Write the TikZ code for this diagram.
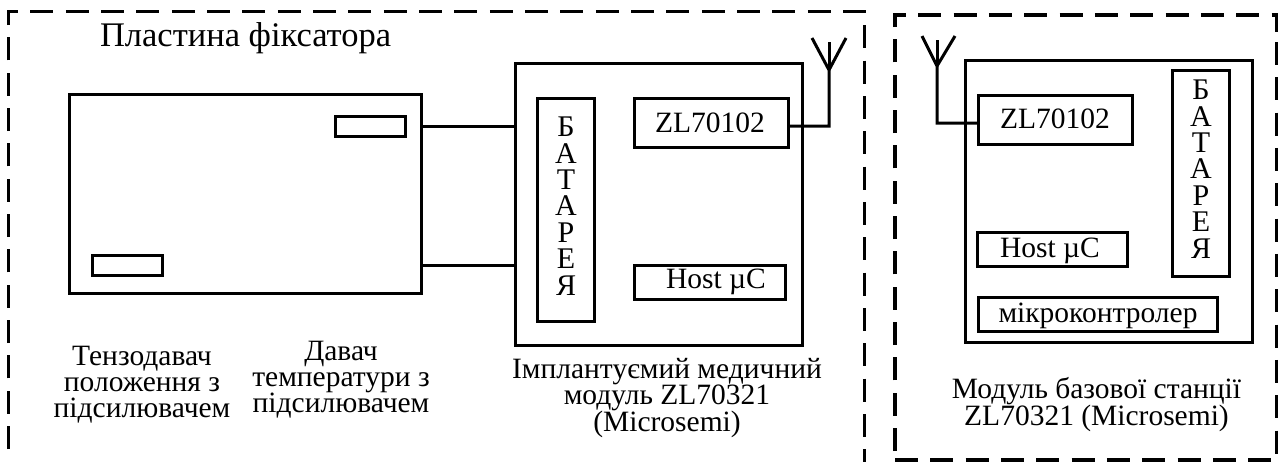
\documentclass[tikz,border=0pt]{standalone}
\usepackage{fontspec}
\setmainfont{Liberation Serif}
\tikzset{
  x=1pt,y=-1pt,
  boxn/.style={draw=black,line width=3pt,line join=miter,inner sep=0pt,outer sep=0pt,rectangle,anchor=north west},
  wire/.style={draw=black,line width=3pt,line join=miter},
  frame/.style={draw=black,line width=3.2pt,line join=miter,dash pattern=on 23pt off 12.33pt},
  lab/.style={inner sep=0pt,outer sep=0pt,align=center,font=\fontsize{29.5}{26}\selectfont},
  one/.style={inner sep=0pt,outer sep=0pt,anchor=base,font=\fontsize{29.5}{26}\selectfont},
  bat/.style={inner sep=0pt,outer sep=0pt,align=center,font=\fontsize{30}{26.4}\selectfont},
}
\newcommand{\bx}[6]{\node[boxn,minimum width=#4-#2,minimum height=#5-#3] (#1) at (#2,#3) {#6};}
\begin{document}
\begin{tikzpicture}
\useasboundingbox (0,0) rectangle (1279,461);
% dashed frames
\coordinate (fa) at (864.5,462);\coordinate (fb) at (864.5,11.5);\coordinate (fc) at (8.7,11.5);\coordinate (fd) at (8.7,449);
\draw[frame] (fd) -- (fc) -- (fb) -- (fa);
\coordinate (ga) at (895,451);\coordinate (gb) at (895,15);\coordinate (gc) at (1276.5,15);\coordinate (gd) at (1276.5,32);
\draw[frame] (ga) -- (gb) -- (gc) -- (gd);
\coordinate (ge) at (1276.5,42);\coordinate (gf) at (1276.5,455);
\draw[frame] (ge) -- (gf);
\coordinate (gg) at (895,460);\coordinate (gh) at (1271,460);
\draw[frame] (gg) -- (gh);
% left
\bx{plate}{69}{94}{421}{293}{}
\bx{st}{335}{116}{405}{136}{}
\bx{sb}{92}{255}{162}{275}{}
\bx{mod}{515}{63}{802}{345}{}
\bx{batl}{537}{98}{594}{321}{}
\bx{zl}{634}{98}{788}{147}{}
\bx{hl}{634}{265}{785}{299}{}
\node[one] at (710,132) (zltext) {ZL70102};
\node[one] at (716,288) (hltext) {Host µC};
\node[bat] at (566,206) (batltext) {Б\\А\\Т\\А\\Р\\Е\\Я};
\node[one,anchor=base west,font=\fontsize{34.5}{36}\selectfont] at (100,46) (title) {Пластина фіксатора};
\node[lab] at (142,384.5) (t1) {Тензодавач\\положення з\\підсилювачем};
\node[lab] at (341,379.5) (t2) {Давач\\температури з\\підсилювачем};
\node[lab] at (667,398) (t3) {Імплантуємий медичний\\модуль ZL70321\\(Microsemi)};
\coordinate (pt) at (421,126);\coordinate (mt) at (515,126);
\coordinate (pb) at (421,265);\coordinate (mb) at (515,265);
\draw[wire] (pt) -- (mt);
\draw[wire] (pb) -- (mb);
\coordinate (al) at (829,126);\coordinate (ab) at (829,70);
\coordinate (a1) at (812,38);\coordinate (a2) at (846,38);\coordinate (a3) at (829,42);
\draw[wire] (zl.east |- al) -- (al) -- (ab) -- (a1);
\draw[wire] (ab) -- (a2);
\draw[wire] (ab) -- (a3);
% right
\bx{modr}{965}{60}{1252}{342}{}
\bx{zlr}{978}{95}{1132}{144}{}
\bx{hr}{977}{232}{1127}{266}{}
\bx{batr}{1172}{70}{1229}{276}{}
\bx{mc}{978}{297}{1217}{331}{}
\node[one] at (1055,128) (zlrtext) {ZL70102};
\node[one] at (1050,257) (hrtext) {Host µC};
\node[bat] at (1201,169) (batrtext) {Б\\А\\Т\\А\\Р\\Е\\Я};
\node[one] at (1098,322) (mctext) {мікроконтролер};
\node[lab] at (1096.5,404.5) (t4) {Модуль базової станції\\ZL70321 (Microsemi)};
\coordinate (ar) at (937,123);\coordinate (br) at (937,66);
\coordinate (b1) at (922,36);\coordinate (b2) at (955,36);\coordinate (b3) at (937,40);
\draw[wire] (zlr.west |- ar) -- (ar) -- (br) -- (b1);
\draw[wire] (br) -- (b2);
\draw[wire] (br) -- (b3);
\end{tikzpicture}
\end{document}
